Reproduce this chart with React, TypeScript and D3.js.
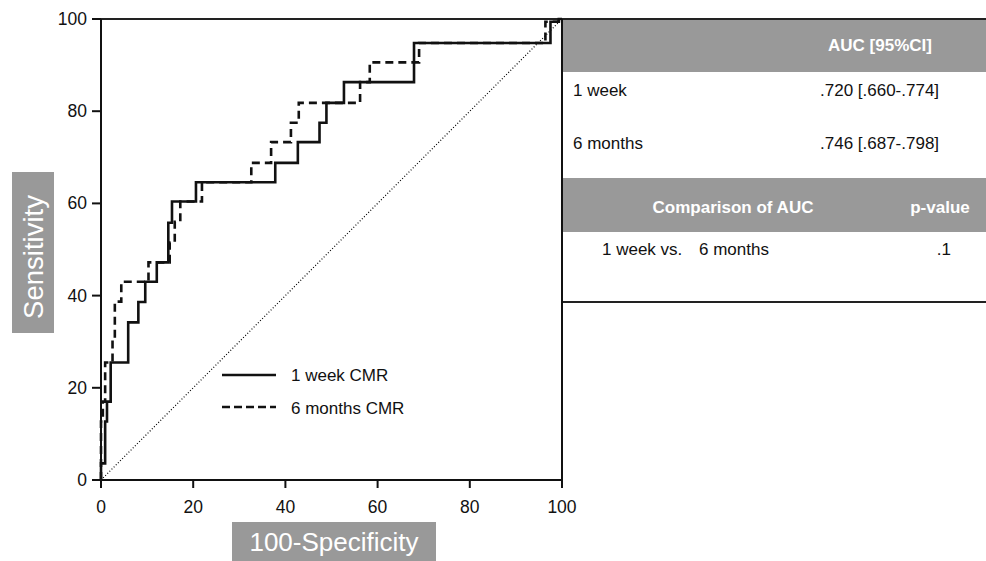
import React from "react";
import * as d3 from "d3";

// ROC step corners (100-specificity, sensitivity), vertical-then-horizontal steps
const weekFpr = [0, 0.9, 1.3, 2.1, 5.9, 8.1, 9.6, 12.1, 14.6, 15.4, 20.6, 37.8, 42.7, 47.4, 48.9, 52.7, 67.9, 97.5, 99.3, 100];
const weekTpr = [0, 3.6, 12.7, 17, 25.5, 34.2, 38.6, 43, 47.2, 55.8, 60.4, 64.6, 68.8, 73.3, 77.5, 81.8, 86.3, 94.8, 99.4, 100];
const monthsFpr = [0, 0.4, 0.9, 2.5, 3, 4.4, 10.3, 14.9, 16, 17.2, 21.9, 32.6, 36.9, 41.2, 42.9, 56.2, 58.3, 69, 96.4, 99.3, 100];
const monthsTpr = [0, 12.7, 17, 25.5, 30.5, 38.7, 43, 47.2, 51.5, 56, 60.4, 64.6, 68.8, 73.3, 77.5, 81.8, 86.3, 90.6, 94.8, 99.4, 100];

const ticks = [0, 20, 40, 60, 80, 100];
const seriesNames = ["1 week CMR", "6 months CMR"];
const aucRows = ["1 week", "6 months"];
const aucValues = [".720 [.660-.774]", ".746 [.687-.798]"];
const comparison = ["1 week vs.", "6 months"];
const pValue = ".1";

const FONT = "'Liberation Sans', Arial, Helvetica, sans-serif";
const GRAY = "#999999";

export default function App() {
  const x = d3.scaleLinear().domain([0, 100]).range([101, 562]);
  const y = d3.scaleLinear().domain([0, 100]).range([480, 19]);

  const weekPts: [number, number][] = weekFpr.map((f, i) => [f, weekTpr[i]]);
  const monthsPts: [number, number][] = monthsFpr.map((f, i) => [f, monthsTpr[i]]);
  const pathGen = d3
    .line<[number, number]>()
    .x((d) => x(d[0]))
    .y((d) => y(d[1]))
    .curve(d3.curveStepBefore);

  const tableLeft = 562;
  const tableRight = 986;

  return (
    <svg
      width={986}
      height={561}
      style={{ position: "absolute", left: 0, top: 0, background: "#fff" }}
      fontFamily={FONT}
    >
      {/* table */}
      <rect x={tableLeft} y={19} width={tableRight - tableLeft} height={53} fill={GRAY} />
      <rect x={tableLeft} y={178} width={tableRight - tableLeft} height={54} fill={GRAY} />
      <text x={880} y={51} fontSize={17} fontWeight="bold" fill="#fff" textAnchor="middle">
        AUC [95%CI]
      </text>
      {aucRows.map((r, i) => (
        <g key={r}>
          <text x={573} y={96 + i * 53} fontSize={17} fill="#111">
            {r}
          </text>
          <text x={820} y={96 + i * 53} fontSize={17} fill="#111">
            {aucValues[i]}
          </text>
        </g>
      ))}
      <text x={733} y={213} fontSize={17} fontWeight="bold" fill="#fff" textAnchor="middle">
        Comparison of AUC
      </text>
      <text x={940} y={213} fontSize={17} fontWeight="bold" fill="#fff" textAnchor="middle">
        p-value
      </text>
      <text x={602} y={255} fontSize={17} fill="#111">
        {comparison[0]}
      </text>
      <text x={699} y={255} fontSize={17} fill="#111">
        {comparison[1]}
      </text>
      <text x={951} y={255} fontSize={17} fill="#111" textAnchor="end">
        {pValue}
      </text>
      <line x1={tableLeft} x2={tableRight} y1={302} y2={302} stroke="#222" strokeWidth={2} />
      <line x1={92} x2={tableRight} y1={19} y2={19} stroke="#222" strokeWidth={2} />

      {/* diagonal reference */}
      <line
        x1={x(0)}
        y1={y(0)}
        x2={x(100)}
        y2={y(100)}
        stroke="#000"
        strokeWidth={1.2}
        strokeDasharray="1,2"
      />

      {/* curves */}
      <path d={pathGen(weekPts) || ""} fill="none" stroke="#111" strokeWidth={2.6} />
      <path
        d={pathGen(monthsPts) || ""}
        fill="none"
        stroke="#111"
        strokeWidth={2.6}
        strokeDasharray="8,5"
      />

      {/* axes */}
      <line x1={x(0)} x2={x(0)} y1={y(0)} y2={y(100)} stroke="#111" strokeWidth={2} />
      <line x1={x(0)} x2={x(100)} y1={y(0)} y2={y(0)} stroke="#111" strokeWidth={2} />
      <line x1={x(100)} x2={x(100)} y1={y(0)} y2={y(100)} stroke="#111" strokeWidth={2} />
      {ticks.map((t) => (
        <g key={"y" + t}>
          <line x1={x(0) - 9} x2={x(0)} y1={y(t)} y2={y(t)} stroke="#111" strokeWidth={2} />
          <text x={x(0) - 14} y={y(t) + 6} fontSize={17.5} textAnchor="end" fill="#111">
            {t}
          </text>
        </g>
      ))}
      {ticks.map((t) => (
        <g key={"x" + t}>
          <line x1={x(t)} x2={x(t)} y1={y(0)} y2={y(0) + 8} stroke="#111" strokeWidth={2} />
          <text x={x(t)} y={513} fontSize={17.5} textAnchor="middle" fill="#111">
            {t}
          </text>
        </g>
      ))}

      {/* axis titles */}
      <rect x={12} y={172} width={42} height={161} fill={GRAY} />
      <text
        transform={`translate(43,257) rotate(-90)`}
        fontSize={27.5}
        fill="#fff"
        textAnchor="middle"
      >
        Sensitivity
      </text>
      <rect x={232} y={522} width={204} height={39} fill={GRAY} />
      <text x={334} y={551} fontSize={26} fill="#fff" textAnchor="middle">
        100-Specificity
      </text>

      {/* legend */}
      <line x1={222} x2={276} y1={375} y2={375} stroke="#111" strokeWidth={2.6} />
      <text x={291} y={381} fontSize={17} fill="#111">
        {seriesNames[0]}
      </text>
      <line
        x1={222}
        x2={276}
        y1={407}
        y2={407}
        stroke="#111"
        strokeWidth={2.6}
        strokeDasharray="8,4"
      />
      <text x={291} y={414} fontSize={17} fill="#111">
        {seriesNames[1]}
      </text>
    </svg>
  );
}
